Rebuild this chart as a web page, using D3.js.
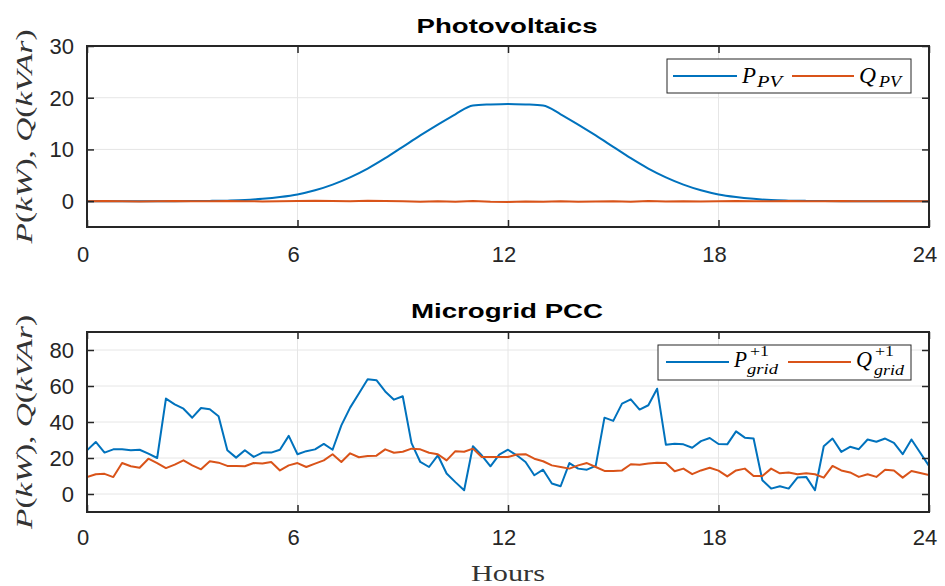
<!DOCTYPE html>
<html><head><meta charset="utf-8">
<script src="https://cdn.jsdelivr.net/npm/d3@7"></script>
<style>body{margin:0;background:#fff}svg{display:block}</style>
</head><body><svg id="c" width="945" height="586"></svg>
<script>
// ---------- data ----------
const xTicks = [0, 6, 12, 18, 24];
const pvYTicks = [0, 10, 20, 30];
const gridYTicks = [0, 20, 40, 60, 80];

// PV (half-hour samples, hours 0..24)
const pvHours = [0,0.5,1,1.5,2,2.5,3,3.5,4,4.5,5,5.5,6,6.5,7,7.5,8,8.5,9,9.5,10,10.5,11,11.5,12,12.5,13,13.5,14,14.5,15,15.5,16,16.5,17,17.5,18,18.5,19,19.5,20,20.5,21,21.5,22,22.5,23,23.5,24];
const pPV = [0,0,0,0,0,0,0.02,0.05,0.1,0.2,0.45,0.8,1.3,2.1,3.2,4.6,6.3,8.3,10.5,12.7,14.8,16.8,18.5,18.7,18.8,18.7,18.5,16.8,14.8,12.7,10.5,8.3,6.3,4.6,3.2,2.1,1.3,0.8,0.45,0.2,0.1,0.05,0.02,0,0,0,0,0,0];
const qPV = [0,0.05,0,-0.05,0,0.05,0,0,0.05,0,-0.05,0,0.05,0.1,0.05,0,0.1,0.05,0,-0.1,0,-0.1,0.05,-0.1,-0.15,-0.05,-0.1,0,-0.1,-0.05,0,-0.1,0.05,-0.05,0,-0.05,0,0.05,0,0,0.05,0,0,0.05,0,0,0.05,0,0];

// Microgrid PCC (quarter-hour samples, hours 0..24) plus initial transient at t=0
const gridHours = d3.range(0, 24.001, 0.25);
const pGridStart = -10;
const qGridStart = 39;
const pGrid = [24.3,28.9,23,24.8,24.8,24.3,24.6,22.4,20,53,49.8,47.4,42.4,47.8,47.1,43.2,24.3,20.2,24.3,20.6,23,23,24.6,32.3,
  22.1,23.8,24.8,27.8,24.6,38.1,48,55.8,63.7,63.2,57,52.4,54.3,28.3,17.8,15,21.5,11.4,6.6,2.1,26.5,21.5,15.4,21.9,
  24.6,21.5,17.8,10.4,13.5,5.8,4.3,17.2,14.1,13.5,15.6,42.4,40.6,50.2,52.6,46.9,49.3,58.5,27.4,27.9,27.6,25.7,29.4,31.1,
  27.8,27.6,34.8,31.3,30.8,7.6,3,4.3,3,9.1,9.5,2.1,26.5,30.8,23.4,26.2,24.9,30.3,29,30.8,28.4,22.1,30.3,22.9,15.6];
const qGrid = [9.4,11,11.2,9.4,17.2,15.4,14.6,19.6,17.2,14.4,16.3,18.7,15.9,13.7,18.2,17.4,15.6,15.6,15.4,17.2,16.9,17.8,13.1,15.9,
  17.2,15,16.9,18.7,22.1,17.8,22.6,20.4,21.1,21.3,24.8,22.9,23.5,25.2,24.8,22.9,22.1,18.7,23.8,23.5,25.2,20.6,20.6,20.6,
  20.6,21.9,22.1,19.6,18.2,15.9,15,14.1,15.9,17.2,15,12.8,12.8,13.1,16.5,16.3,16.9,17.4,17.2,12.6,14.1,11,13.1,14.6,
  13,9.8,13.1,14.1,10,10,14.1,11.5,12,11,11.5,11,9.1,15.6,13.1,12,9.5,11,9.5,13.5,13.1,9.1,12.8,11.7,10.5];

const BLUE = "#0072BD", ORANGE = "#D95319", AXIS = "#262626", GRID = "#e6e6e6";
const svg = d3.select("#c");
const plotLeft = 87, plotRight = 929;
const serif = "Liberation Serif, Times New Roman, serif";

function panel(cfg) {
  const x = d3.scaleLinear().domain([0, 24]).range([plotLeft, plotRight]);
  const y = d3.scaleLinear().domain(cfg.yDomain).range([cfg.bottom, cfg.top]);
  const g = svg.append("g");
  g.selectAll(".gx").data(xTicks).join("line")
    .attr("x1", d => x(d)).attr("x2", d => x(d)).attr("y1", cfg.top).attr("y2", cfg.bottom)
    .attr("stroke", GRID).attr("stroke-width", 1);
  g.selectAll(".gy").data(cfg.yTicks).join("line")
    .attr("x1", plotLeft).attr("x2", plotRight).attr("y1", d => y(d)).attr("y2", d => y(d))
    .attr("stroke", GRID).attr("stroke-width", 1);
  const clipId = "clip" + cfg.top;
  svg.append("clipPath").attr("id", clipId).append("rect")
    .attr("x", plotLeft).attr("y", cfg.top).attr("width", plotRight - plotLeft).attr("height", cfg.bottom - cfg.top);
  cfg.series.forEach(s => {
    g.append("path").datum(s.data)
      .attr("clip-path", `url(#${clipId})`)
      .attr("fill", "none").attr("stroke", s.color).attr("stroke-width", 2)
      .attr("stroke-linejoin", "round")
      .attr("d", d3.line().x(d => x(d[0])).y(d => y(d[1])).curve(s.curve || d3.curveLinear));
  });
  const tl = 7;
  const axB = d3.axisBottom(x).tickValues(xTicks).tickSize(-tl).tickFormat("");
  const axT = d3.axisTop(x).tickValues(xTicks).tickSize(-tl).tickFormat("");
  const axL = d3.axisLeft(y).tickValues(cfg.yTicks).tickSize(-tl).tickFormat("");
  const axR = d3.axisRight(y).tickValues(cfg.yTicks).tickSize(-tl).tickFormat("");
  [[axB, `translate(0,${cfg.bottom})`], [axT, `translate(0,${cfg.top})`],
   [axL, `translate(${plotLeft},0)`], [axR, `translate(${plotRight},0)`]].forEach(([ax, tr]) => {
    const a = g.append("g").attr("transform", tr).call(ax);
    a.select(".domain").remove();
    a.selectAll("line").attr("stroke", AXIS).attr("stroke-width", 1.5);
  });
  g.append("rect").attr("x", plotLeft).attr("y", cfg.top).attr("width", plotRight - plotLeft)
    .attr("height", cfg.bottom - cfg.top).attr("fill", "none").attr("stroke", AXIS).attr("stroke-width", 2);
  g.selectAll(".xl").data(xTicks).join("text")
    .attr("x", d => x(d) - 4).attr("y", cfg.bottom + cfg.xLabOff)
    .attr("text-anchor", "middle").attr("font-family", "Liberation Sans, Arial, sans-serif")
    .attr("font-size", 22).attr("fill", AXIS).text(d => d);
  g.selectAll(".yl").data(cfg.yTicks).join("text")
    .attr("x", plotLeft - 13).attr("y", d => y(d) + 8)
    .attr("text-anchor", "end").attr("font-family", "Liberation Sans, Arial, sans-serif")
    .attr("font-size", 22).attr("fill", AXIS).text(d => d);
  g.append("text").attr("x", 507).attr("y", cfg.titleY).attr("text-anchor", "middle")
    .attr("font-family", "Liberation Sans, Arial, sans-serif").attr("font-weight", "bold")
    .attr("font-size", 21).attr("fill", "#000")
    .attr("textLength", cfg.titleLen).attr("lengthAdjust", "spacingAndGlyphs").text(cfg.title);
  const cy = (cfg.top + cfg.bottom) / 2;
  const yl = g.append("text").attr("transform", `translate(32,${cy}) rotate(-90)`)
    .attr("text-anchor", "middle").attr("font-family", serif)
    .attr("font-size", 24).attr("fill", "#333")
    .attr("textLength", 214).attr("lengthAdjust", "spacingAndGlyphs");
  [["P", 1], ["(", 0], ["kW", 1], ["), ", 0], ["Q", 1], ["(", 0], ["kVAr", 1], [")", 0]].forEach(([t, it]) => {
    yl.append("tspan").attr("font-style", it ? "italic" : "normal").text(t);
  });
  return { x, y, g };
}

panel({
  top: 46, bottom: 227, yDomain: [-5, 30], yTicks: pvYTicks, xLabOff: 35,
  title: "Photovoltaics", titleY: 33, titleLen: 181,
  series: [
    { data: pvHours.map((h, i) => [h, pPV[i]]), color: BLUE, curve: d3.curveMonotoneX },
    { data: pvHours.map((h, i) => [h, qPV[i]]), color: ORANGE }
  ]
});

panel({
  top: 332, bottom: 512, yDomain: [-10, 90], yTicks: gridYTicks, xLabOff: 33,
  title: "Microgrid PCC", titleY: 318, titleLen: 192,
  series: [
    { data: [[0, pGridStart]].concat(gridHours.map((h, i) => [h, pGrid[i]])), color: BLUE },
    { data: [[0, qGridStart]].concat(gridHours.map((h, i) => [h, qGrid[i]])), color: ORANGE }
  ]
});

svg.append("text").attr("x", 508).attr("y", 581).attr("text-anchor", "middle")
  .attr("font-family", serif).attr("font-size", 23)
  .attr("fill", "#333").attr("textLength", 74).attr("lengthAdjust", "spacingAndGlyphs").text("Hours");

function legendBox(x0, y0, x1, y1) {
  svg.append("rect").attr("x", x0).attr("y", y0).attr("width", x1 - x0).attr("height", y1 - y0)
    .attr("fill", "#fff").attr("stroke", AXIS).attr("stroke-width", 1);
}
function legLine(x0, x1, y, c) {
  svg.append("line").attr("x1", x0).attr("x2", x1).attr("y1", y).attr("y2", y)
    .attr("stroke", c).attr("stroke-width", 2);
}
function mathText(x, y, t, size, len, italic = true) {
  const el = svg.append("text").attr("x", x).attr("y", y).attr("font-family", serif)
    .attr("font-style", italic ? "italic" : "normal").attr("font-size", size).attr("fill", "#000").text(t);
  if (len) el.attr("textLength", len).attr("lengthAdjust", "spacingAndGlyphs");
  return el;
}
legendBox(667, 59, 911, 93);
legLine(673, 737, 76, BLUE);
mathText(742, 83, "P", 24, 14);
mathText(757, 87, "PV", 17, 25);
legLine(792, 854, 76, ORANGE);
mathText(859, 83, "Q", 24, 17);
mathText(879, 87, "PV", 17, 22);

legendBox(658, 345, 911, 380);
legLine(666, 729, 362, BLUE);
mathText(734, 367, "P", 24, 13);
mathText(750, 356, "+1", 14, 19, false);
mathText(747, 374, "grid", 15, 31);
legLine(788, 851, 362, ORANGE);
mathText(856, 367, "Q", 24, 16);
mathText(875, 356, "+1", 14, 19, false);
mathText(874, 375, "grid", 15, 30);
</script></body></html>
